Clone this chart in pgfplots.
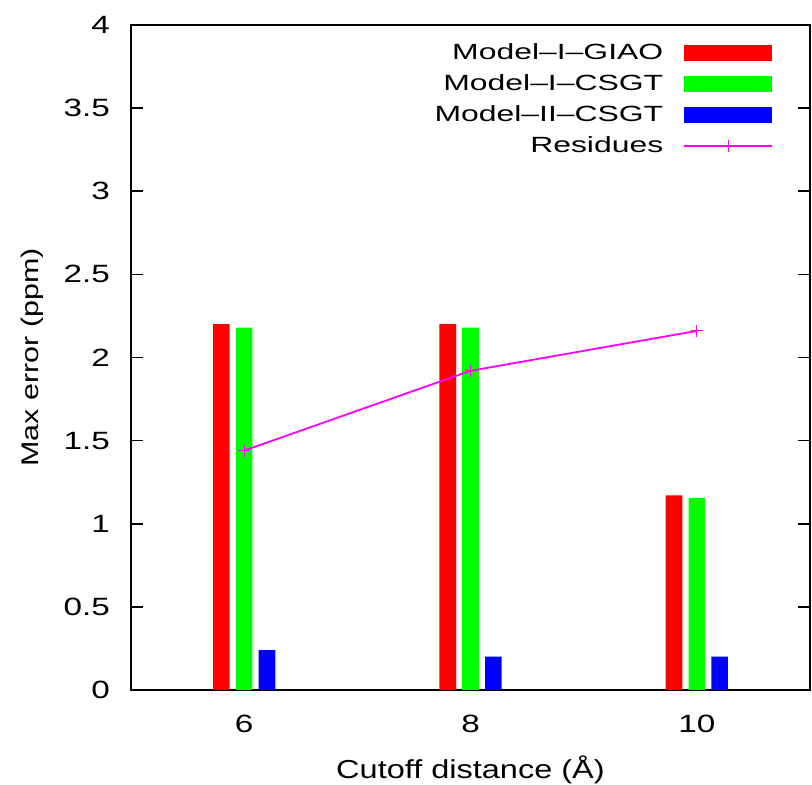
\documentclass[border=0pt]{standalone}
\usepackage{pgfplots}
\pgfplotsset{compat=1.18}
\usepackage{fontspec}
\setmainfont{Liberation Sans}
\newfontfamily\tickfont{Liberation Sans}[FakeStretch=1.33]
\newfontfamily\legfont{Liberation Sans}[FakeStretch=1.45]
\newfontfamily\xlabfont{Liberation Sans}[FakeStretch=1.25]
\newfontfamily\ylabfont{Liberation Sans}[FakeStretch=1.27]
\definecolor{gred}{RGB}{255,0,0}
\definecolor{ggreen}{RGB}{0,255,0}
\definecolor{gblue}{RGB}{0,0,255}
\definecolor{gmag}{RGB}{255,0,255}
\begin{document}
\begin{tikzpicture}
\begin{axis}[
  name=ax,
  scale only axis,
  width=339.5pt, height=332.5pt,
  xmin=5, xmax=11, ymin=0, ymax=4,
  xtick={6,8,10},
  ytick={0,0.5,1,1.5,2,2.5,3,3.5,4},
  yticklabels={0,0.5,1,1.5,2,2.5,3,3.5,4},
  /pgf/number format/assume math mode=true,
  tick align=inside,
  major tick length=6pt,
  xtick pos=bottom,
  x tick style={draw=none},
  ytick pos=both,
  axis line style={line width=1pt},
  tick style={line width=0.8pt, black},
  tick label style={font=\tickfont\fontsize{12.5}{14}\selectfont},
  yticklabel style={xshift=-7pt},
  xticklabel style={yshift=-2.8pt},
  xlabel={Cutoff distance (Å)},
  ylabel={Max error (ppm)},
  xlabel style={font=\xlabfont\fontsize{13}{15}\selectfont,
    at={(axis description cs:0.5,-0.1203)}, anchor=center},
  ylabel style={font=\ylabfont\fontsize{12}{14}\selectfont,
    at={(axis description cs:-0.145,0.5)}, anchor=center},
  ybar,
  bar width=8.3pt,
  legend plot pos=right,
  legend cell align=right,
  legend style={
    at={(axis description cs:0.955,0.985)}, anchor=north east,
    draw=none, fill=none,
    font=\legfont\fontsize{11}{13}\selectfont,
    row sep=2.1pt, column sep=8pt,
  },
]
\addplot[fill=gred, draw=none, bar shift=-11.4pt,
  legend image code/.code={\fill[gred] (0pt,-4pt) rectangle (44pt,4pt);}]
  coordinates {(6,2.20) (8,2.20) (10,1.17)};
\addlegendentry{Model–I–GIAO}
\addplot[fill=ggreen, draw=none, bar shift=0pt,
  legend image code/.code={\fill[ggreen] (0pt,-4pt) rectangle (44pt,4pt);}]
  coordinates {(6,2.18) (8,2.18) (10,1.155)};
\addlegendentry{Model–I–CSGT}
\addplot[fill=gblue, draw=none, bar shift=11.4pt,
  legend image code/.code={\fill[gblue] (0pt,-4pt) rectangle (44pt,4pt);}]
  coordinates {(6,0.24) (8,0.20) (10,0.20)};
\addlegendentry{Model–II–CSGT}
\addplot[sharp plot, gmag, line width=0.9pt, mark=+, mark size=3pt,
  mark options={line width=0.6pt},
  legend image code/.code={\draw[gmag, line width=0.9pt] (0pt,0pt) -- (44pt,0pt);
    \draw[gmag, line width=0.6pt] (22pt,-3pt) -- (22pt,3pt);}]
  coordinates {(6,1.44) (8,1.92) (10,2.16)};
\addlegendentry{Residues}
\end{axis}
\pgfresetboundingbox
\path ([shift={(-65.5pt,-47.5pt)}]ax.south west) rectangle ([shift={(1pt,12.5pt)}]ax.north east);
\end{tikzpicture}
\end{document}
